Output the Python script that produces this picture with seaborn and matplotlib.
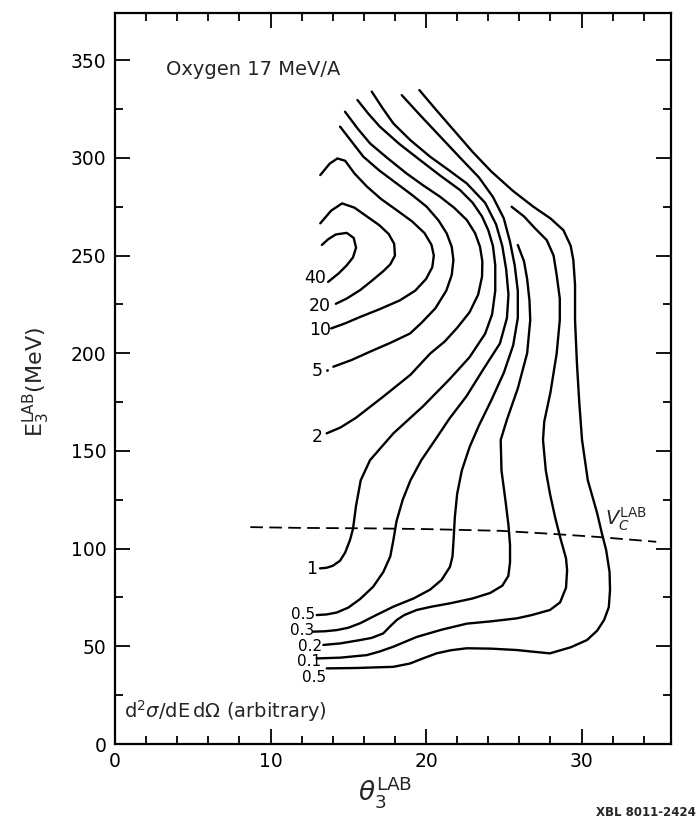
import numpy as np
import pandas as pd
import matplotlib
matplotlib.use("Agg")
import matplotlib.pyplot as plt
import seaborn as sns

# ---- contour lines (theta_lab [deg], E_lab [MeV]) ----
c40_t = [13.3, 13.7, 14.2, 14.9, 15.35, 15.5, 15.3, 14.9, 14.4, 13.7]
c40_e = [255.4, 258.3, 260.8, 261.6, 259.0, 254.0, 249.0, 245.0, 241.0, 236.5]

c20_t = [13.2, 13.9, 14.6, 15.4, 16.2, 17.0, 17.6, 17.95, 18.0, 17.7, 17.25, 16.5, 15.76, 14.9, 14.2]
c20_e = [266.5, 273.0, 276.7, 274.5, 270.0, 265.5, 261.0, 256.0, 250.0, 245.5, 242.0, 237.0, 232.3, 228.0, 225.3]

c10_t = [13.2, 13.8, 14.3, 14.8, 15.4, 16.2, 17.1, 18.1, 19.1, 19.9, 20.35, 20.5, 20.4, 20.0, 19.3, 18.3, 17.0, 15.8, 14.8, 13.9]
c10_e = [291.2, 297.0, 299.7, 298.5, 292.0, 285.3, 279.0, 273.3, 267.5, 261.5, 255.5, 250.0, 244.0, 238.0, 232.0, 227.0, 222.5, 218.7, 215.3, 212.7]

c5_t = [14.47, 15.2, 15.97, 17.0, 18.11, 19.1, 20.04, 20.8, 21.33, 21.65, 21.76, 21.65, 21.3, 20.6, 19.7, 18.97, 17.7, 16.4, 15.2, 14.04]
c5_e = [316.0, 308.5, 300.6, 293.5, 286.9, 281.0, 275.0, 268.0, 261.3, 254.5, 247.7, 240.0, 232.0, 223.0, 215.5, 210.1, 205.3, 200.8, 196.5, 193.1]

c2_t = [14.79, 15.6, 16.4, 17.5, 18.75, 19.8, 20.9, 21.8, 22.62, 23.15, 23.47, 23.62, 23.6, 23.35, 22.8, 22.0, 21.2, 20.26, 19.0, 17.25, 15.5, 14.5, 13.61]
c2_e = [323.6, 315.0, 307.4, 300.0, 292.0, 286.0, 280.1, 274.5, 268.2, 261.5, 254.5, 247.0, 239.2, 230.0, 221.0, 213.0, 206.0, 199.8, 189.0, 177.8, 167.0, 162.0, 159.0]

c1_t = [15.59, 16.3, 17.04, 18.3, 19.61, 20.9, 22.19, 23.0, 23.6, 24.0, 24.3, 24.45, 24.45, 24.25, 23.8, 22.8, 21.5, 19.8, 17.9, 16.4, 15.8, 15.5, 15.3, 15.11, 14.8, 14.47, 14.0, 13.6, 13.18]
c1_e = [329.6, 322.5, 315.9, 307.0, 298.9, 291.0, 283.5, 277.0, 270.0, 263.0, 255.0, 245.0, 232.0, 220.0, 210.0, 198.0, 186.6, 172.8, 159.0, 145.3, 135.0, 122.0, 110.0, 104.4, 98.0, 93.8, 91.2, 90.2, 89.9]

c05_t = [16.51, 17.2, 17.9, 19.0, 20.26, 21.5, 22.62, 23.8, 24.5, 24.9, 25.15, 25.3, 25.2, 24.75, 23.7, 22.6, 21.5, 20.7, 19.7, 19.0, 18.5, 18.1, 17.9, 17.7, 17.25, 16.6, 15.76, 15.0, 14.26, 13.6, 12.97]
c05_e = [333.9, 325.5, 317.6, 309.0, 300.6, 293.5, 286.9, 277.0, 266.0, 255.0, 243.0, 230.0, 218.0, 205.0, 192.0, 178.0, 166.5, 157.0, 145.3, 135.0, 125.0, 114.0, 104.4, 96.0, 88.0, 80.5, 74.2, 69.8, 67.3, 66.3, 66.0]

c03_t = [18.44, 19.6, 20.9, 22.2, 23.4, 24.3, 25.0, 25.4, 25.7, 25.9, 25.9, 25.6, 25.0, 24.2, 23.4, 22.8, 22.3, 22.0, 21.85, 21.77, 21.7, 21.54, 21.0, 20.26, 19.2, 17.9, 16.8, 15.76, 15.0, 14.26, 13.5, 12.75]
c03_e = [332.1, 322.0, 311.0, 300.0, 290.0, 280.0, 269.0, 257.0, 245.0, 232.0, 218.0, 204.0, 190.0, 176.0, 163.0, 152.0, 140.0, 128.0, 116.0, 104.4, 96.0, 90.7, 84.0, 79.0, 74.5, 70.3, 66.0, 61.8, 59.5, 58.3, 57.7, 57.5]

c02_t = [25.9, 26.3, 26.5, 26.65, 26.7, 26.5, 25.9, 25.2, 24.8, 24.85, 25.1, 25.3, 25.4, 25.4, 25.29, 24.9, 24.12, 23.0, 21.54, 20.3, 19.4, 18.6, 18.12, 17.6, 17.25, 16.5, 15.76, 14.5, 13.4]
c02_e = [255.4, 247.0, 238.0, 227.0, 217.0, 200.0, 182.0, 166.0, 155.6, 140.0, 125.0, 112.0, 101.8, 93.0, 86.0, 81.0, 77.3, 74.5, 72.0, 70.2, 68.6, 66.0, 63.5, 59.5, 56.6, 54.3, 53.2, 51.5, 50.7]

c01_t = [25.5, 26.3, 27.0, 27.76, 28.2, 28.4, 28.6, 28.6, 28.4, 28.0, 27.6, 27.52, 27.7, 27.97, 28.3, 28.62, 29.0, 29.07, 29.0, 28.62, 27.97, 26.8, 25.83, 24.2, 22.62, 21.0, 19.4, 17.9, 17.0, 16.19, 14.5, 12.97]
c01_e = [275.0, 270.0, 264.0, 257.9, 250.0, 240.0, 228.0, 217.0, 200.0, 180.0, 165.0, 155.6, 140.0, 128.0, 116.0, 105.9, 95.0, 89.0, 80.0, 72.5, 68.6, 66.0, 64.3, 62.8, 61.6, 58.5, 54.8, 49.8, 47.3, 45.5, 44.2, 43.8]

c005_t = [19.57, 20.6, 21.8, 23.0, 24.2, 25.6, 26.9, 28.0, 28.83, 29.3, 29.47, 29.58, 29.58, 29.7, 29.85, 30.03, 30.4, 31.0, 31.3, 31.58, 31.8, 31.83, 31.75, 31.45, 31.0, 30.35, 29.3, 27.97, 26.8, 25.83, 24.2, 22.62, 21.6, 20.68, 19.8, 18.97, 17.9, 15.5, 13.61]
c005_e = [334.7, 325.0, 314.0, 303.0, 293.0, 283.0, 275.0, 269.0, 263.0, 255.0, 247.7, 235.0, 217.0, 195.0, 175.0, 155.6, 135.0, 118.2, 108.0, 99.3, 88.0, 78.8, 70.0, 63.5, 58.0, 53.2, 49.5, 46.4, 47.3, 48.1, 48.8, 49.0, 48.0, 46.4, 43.8, 41.2, 39.5, 38.9, 38.7]

# dashed V_C line
vc_t = [8.7, 12.0, 16.0, 20.0, 24.8, 28.0, 31.0, 34.8]
vc_e = [111.0, 110.6, 110.4, 110.0, 109.1, 107.6, 106.0, 103.5]

# contour labels
lab_text = ["40", "20", "10", "5", "2", "1", "0.5", "0.3", "0.2", "0.1", "0.5"]
lab_t = [12.86, 13.18, 13.18, 13.02, 13.02, 12.67, 12.06, 12.0, 12.54, 12.48, 12.8]
lab_e = [238.3, 224.0, 212.0, 191.0, 156.9, 89.6, 66.5, 57.9, 49.8, 42.3, 34.0]
lab_size = [12.5, 12.5, 12.5, 12.5, 12.5, 12.5, 11, 11, 11, 11, 11]

x_major = [0, 10, 20, 30]
y_major = [0, 50, 100, 150, 200, 250, 300, 350]

levels = [("40", c40_t, c40_e), ("20", c20_t, c20_e), ("10", c10_t, c10_e),
          ("5", c5_t, c5_e), ("2", c2_t, c2_e), ("1", c1_t, c1_e),
          ("0.5", c05_t, c05_e), ("0.3", c03_t, c03_e), ("0.2", c02_t, c02_e),
          ("0.1", c01_t, c01_e), ("0.05", c005_t, c005_e)]

rows = []
for name, ts, es in levels:
    for i, (t, e) in enumerate(zip(ts, es)):
        rows.append({"level": name, "order": i, "theta": t, "E": e})
df = pd.DataFrame(rows)
vc = pd.DataFrame({"theta": vc_t, "E": vc_e})

sns.set_theme(style="ticks")
plt.rcParams["font.family"] = ["DejaVu Sans"]
plt.rcParams["mathtext.fontset"] = "dejavusans"

fig = plt.figure(figsize=(6.99, 8.24), dpi=100)
ax = fig.add_axes([115 / 699, 1 - 744 / 824, (671 - 115) / 699, (744 - 12.5) / 824])

sns.lineplot(data=df, x="theta", y="E", units="level", estimator=None, sort=False,
             color="black", lw=1.7, ax=ax, legend=False)
sns.lineplot(data=vc, x="theta", y="E", sort=False, estimator=None, color="black",
             lw=1.3, ax=ax, legend=False, linestyle=(0, (7, 3.5)))
for line in ax.get_lines():
    line.set_solid_joinstyle("round")
    line.set_solid_capstyle("round")

for s, t, e, fs in zip(lab_text, lab_t, lab_e, lab_size):
    ax.text(t, e, s, ha="center", va="center", fontsize=fs, color="black")
ax.plot([13.6], [191.5], marker=".", ms=2, color="black")

ax.set_xlim(0, 35.75)
ax.set_ylim(0, 374.4)
ax.set_xticks(x_major)
ax.set_yticks(y_major)
ax.set_xticks(np.arange(0, 36, 2), minor=True)
ax.set_yticks(np.arange(0, 375, 25), minor=True)
ax.tick_params(which="both", direction="in", top=True, right=True, colors="black",
               labelsize=13.5, width=1.3)
ax.tick_params(which="major", length=11, pad=6)
ax.tick_params(which="minor", length=5.5)
for sp in ax.spines.values():
    sp.set_color("black")
    sp.set_linewidth(1.6)
ax.set_xlabel("")
ax.set_ylabel("")

ax.text(3.3, 345, "Oxygen 17 MeV/A", fontsize=14, ha="left", va="center")
ax.text(0.6, 17, r"$\mathrm{d}^2\sigma/\mathrm{dE\,d}\Omega$ (arbitrary)", fontsize=14,
        ha="left", va="center")
ax.text(31.5, 115, r"$V_C^{\rm LAB}$", fontsize=14, ha="left", va="center")

fig.text(385 / 699, 1 - 792 / 824, r"$\theta_3^{\rm LAB}$", fontsize=19, ha="center", va="center")
fig.text(36 / 699, 1 - 382 / 824, r"$\mathrm{E}_3^{\rm LAB}$(MeV)", fontsize=16, ha="center",
         va="center", rotation=90)
fig.text(0.995, 1 - 812 / 824, "XBL 8011-2424", fontsize=8.5, fontweight="bold",
         ha="right", va="center")

fig.savefig("out.png", dpi=100, facecolor="white")
